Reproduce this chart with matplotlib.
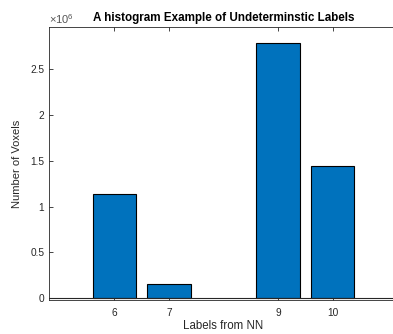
import matplotlib.pyplot as plt
from matplotlib.ticker import FuncFormatter

labels = [6, 7, 9, 10]
voxels = [1.14e6, 0.16e6, 2.79e6, 1.445e6]
yticks = [0, 0.5e6, 1e6, 1.5e6, 2e6, 2.5e6]

plt.rcParams['font.family'] = ['Liberation Sans', 'DejaVu Sans']
plt.rcParams['mathtext.fontset'] = 'custom'
plt.rcParams['mathtext.rm'] = 'Liberation Sans'

axis_gray = '#262626'

fig = plt.figure(figsize=(3.93, 3.34), dpi=100)
ax = fig.add_axes([49 / 393, 34 / 334, 349 / 393, 273 / 334])

ax.bar(labels, voxels, width=0.8, color='#0072BD', edgecolor='black', linewidth=0.8, zorder=2)
ax.axhline(0, color=axis_gray, linewidth=0.8, zorder=3)

ax.set_xlim(4.8, 11.2)
ax.set_ylim(-0.02e6, 2.96e6)
ax.set_xticks(labels)
ax.set_yticks(yticks)
ax.yaxis.set_major_formatter(FuncFormatter(lambda v, p: '%g' % (v / 1e6)))

ax.tick_params(direction='in', length=3, width=0.6, labelsize=7.3,
               colors=axis_gray, top=True, right=True)
ax.tick_params(axis='x', pad=6)
for s in ax.spines.values():
    s.set_color(axis_gray)
    s.set_linewidth(0.6)

ax.set_title('A histogram Example of Undeterminstic Labels', fontsize=8.4,
             fontweight='bold', pad=4)
ax.set_xlabel('Labels from NN', fontsize=8.3, color=axis_gray, labelpad=1)
ax.set_ylabel('Number of Voxels', fontsize=8.0, color=axis_gray, labelpad=6)
ax.text(0, 1.005, r'$\times10^{6}$', transform=ax.transAxes, fontsize=8,
        color='#555555', ha='left', va='bottom')

fig.savefig('out.png', dpi=100)
